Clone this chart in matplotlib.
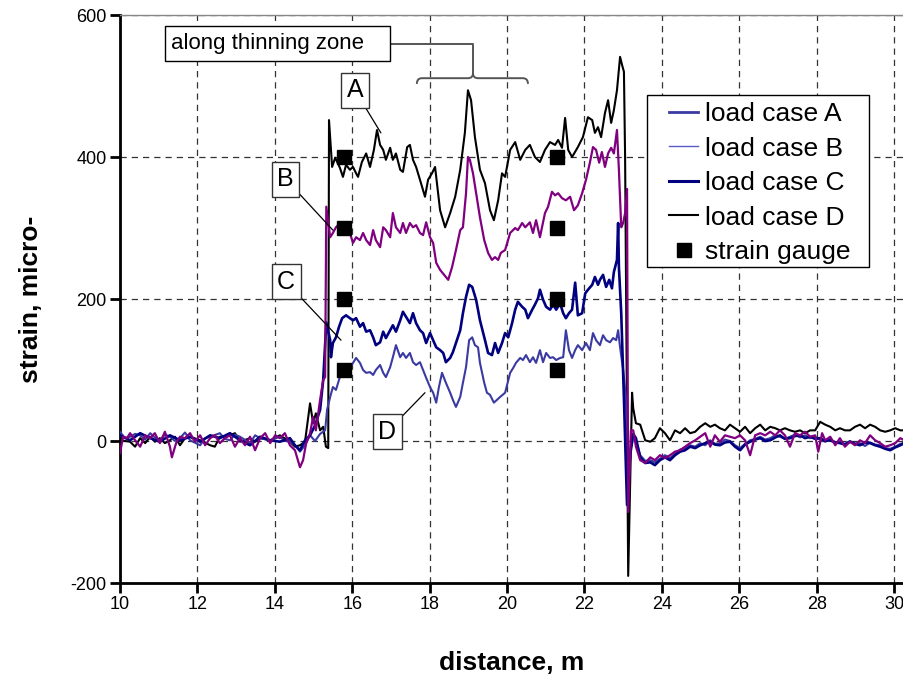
import matplotlib
matplotlib.use("Agg")
import matplotlib.pyplot as plt
from matplotlib.lines import Line2D
from matplotlib.path import Path
from matplotlib.patches import PathPatch, Rectangle

plt.rcParams['font.family'] = ['Liberation Sans', 'DejaVu Sans']
plt.rcParams['axes.unicode_minus'] = False

# ---------------- data (distance m, strain micro-) ----------------
d_x = [10.00,10.26,10.39,10.52,10.65,10.78,10.90,11.03,11.16,11.29,11.42,11.55,11.68,11.81,12.07,12.33,12.45,12.58,12.84,12.97,
       13.10,13.36,13.49,13.62,13.88,14.13,14.39,14.52,14.65,14.78,14.91,14.99,15.06,15.17,15.25,15.32,15.38,15.40,15.48,15.56,
       15.68,15.76,15.84,15.94,16.02,16.10,16.15,16.25,16.36,16.46,16.56,16.64,16.72,16.80,16.87,16.98,17.05,17.13,17.24,17.31,
       17.42,17.49,17.57,17.65,17.75,17.88,17.96,18.06,18.14,18.27,18.40,18.53,18.66,18.79,18.91,18.99,19.07,19.17,19.30,19.43,
       19.56,19.66,19.77,19.87,19.95,20.08,20.21,20.34,20.47,20.59,20.72,20.85,20.98,21.11,21.24,21.32,21.42,21.50,21.58,21.68,
       21.83,21.96,22.09,22.20,22.27,22.35,22.43,22.53,22.61,22.69,22.76,22.84,22.92,22.97,23.02,23.05,23.13,23.23,23.26,23.33,
       23.44,23.57,23.70,23.82,23.95,24.08,24.21,24.34,24.47,24.60,24.73,24.86,24.99,25.12,25.25,25.37,25.50,25.63,25.76,25.89,
       26.02,26.15,26.28,26.41,26.54,26.67,26.80,26.93,27.05,27.18,27.31,27.44,27.57,27.70,27.83,27.96,28.09,28.22,28.35,28.48,
       28.60,28.73,28.86,28.99,29.12,29.25,29.38,29.51,29.64,29.77,29.90,30.03,30.16,30.23]
d_y = [1,-1,-8,4,-3,6,-1,4,-3,1,6,-6,4,6,1,-6,-8,6,8,11,
       -1,4,-1,4,1,8,-1,-8,-6,-1,53,25,39,15,20,-8,-10,452,386,399,
       385,372,389,382,386,377,372,393,405,386,410,438,417,410,396,413,396,405,382,379,
       414,417,396,386,368,344,368,377,386,325,301,321,344,382,434,494,480,428,382,363,
       325,311,339,377,372,410,421,396,410,417,400,393,410,421,417,424,413,455,410,400,
       414,428,456,452,434,442,428,462,480,448,466,494,541,530,520,400,-190,68,46,25,
       23,1,-1,4,18,11,1,15,11,18,11,13,20,25,20,23,18,15,23,18,
       13,20,11,18,23,15,20,18,15,18,15,13,15,11,15,15,27,23,20,15,
       18,15,15,20,23,18,23,20,15,13,15,18,15,15]

b_x = [10.00,10.08,10.18,10.26,10.39,10.52,10.65,10.78,10.90,11.03,11.16,11.29,11.34,11.45,11.55,11.68,11.81,11.94,12.07,12.20,
       12.33,12.45,12.58,12.71,12.84,12.97,13.10,13.23,13.36,13.49,13.62,13.75,13.88,14.01,14.13,14.26,14.39,14.52,14.65,14.73,
       14.81,14.91,14.99,15.06,15.17,15.25,15.30,15.33,15.43,15.50,15.58,15.68,15.76,15.84,15.94,16.02,16.10,16.20,16.28,16.36,
       16.46,16.54,16.61,16.72,16.80,16.87,16.98,17.05,17.13,17.24,17.31,17.39,17.49,17.57,17.65,17.75,17.83,17.91,18.01,18.09,
       18.17,18.27,18.48,18.58,18.68,18.79,18.86,18.94,18.99,19.04,19.12,19.20,19.30,19.41,19.51,19.61,19.69,19.77,19.84,19.95,
       20.08,20.21,20.28,20.39,20.47,20.59,20.67,20.75,20.85,20.98,21.06,21.16,21.24,21.32,21.42,21.52,21.63,21.73,21.83,21.94,
       22.04,22.14,22.22,22.30,22.38,22.45,22.53,22.61,22.69,22.76,22.84,22.89,22.95,23.00,23.05,23.10,23.13,23.20,23.26,23.33,
       23.44,23.57,23.70,23.82,23.95,24.08,24.21,24.34,24.47,24.60,24.73,24.86,24.99,25.12,25.25,25.37,25.50,25.63,25.76,25.89,
       26.02,26.15,26.28,26.41,26.54,26.67,26.80,26.93,27.05,27.18,27.31,27.44,27.57,27.70,27.83,27.96,28.04,28.14,28.22,28.35,
       28.48,28.60,28.73,28.86,28.99,29.12,29.25,29.38,29.51,29.64,29.77,29.90,30.03,30.16,30.23]
b_y = [-17,6,4,11,1,-8,8,4,11,-3,13,-8,-23,-3,6,4,11,-1,8,-6,
       4,8,-3,4,8,-8,4,-6,6,-13,4,11,-3,8,4,11,-6,-13,-37,-27,
       -3,11,34,15,58,86,90,330,287,293,301,307,297,300,293,279,287,283,293,283,
       276,297,283,273,301,297,287,321,301,293,307,293,307,301,304,293,290,308,287,279,
       251,241,227,245,269,297,301,349,400,396,377,349,315,283,265,255,259,255,265,269,
       293,300,297,307,301,308,293,311,287,321,330,351,346,349,342,339,344,325,332,349,
       368,392,414,410,392,407,386,405,413,405,438,382,301,307,321,355,-100,15,15,-8,
       -27,-31,-23,-27,-20,-24,-20,-15,-13,-8,-3,1,6,11,-8,8,-1,8,6,4,
       8,1,-20,8,11,8,13,8,15,8,-8,11,8,13,6,8,-15,11,1,6,
       -6,4,-8,-1,-6,1,-3,8,1,-3,-8,-6,-3,4,2]

c_x = [10.00,10.26,10.52,10.78,11.03,11.29,11.55,11.81,12.07,12.33,12.58,12.84,13.10,13.36,13.62,13.88,14.13,14.39,14.52,14.65,
       14.78,14.91,15.04,15.17,15.25,15.33,15.43,15.45,15.50,15.58,15.66,15.74,15.84,15.94,16.02,16.10,16.20,16.28,16.36,16.46,
       16.54,16.61,16.72,16.80,16.87,16.98,17.05,17.13,17.24,17.31,17.39,17.49,17.57,17.65,17.75,17.83,17.91,18.01,18.09,18.17,
       18.27,18.35,18.42,18.53,18.60,18.68,18.79,18.86,18.94,19.02,19.10,19.20,19.30,19.43,19.51,19.61,19.69,19.77,19.87,19.95,
       20.03,20.13,20.21,20.28,20.39,20.47,20.54,20.65,20.72,20.80,20.85,20.93,21.01,21.11,21.19,21.27,21.37,21.45,21.52,21.60,
       21.68,21.76,21.83,21.94,22.02,22.09,22.20,22.27,22.35,22.40,22.48,22.56,22.64,22.71,22.76,22.84,22.87,22.89,22.95,23.02,
       23.10,23.18,23.26,23.33,23.44,23.57,23.70,23.82,23.95,24.08,24.21,24.34,24.47,24.60,24.73,24.86,24.99,25.12,25.25,25.37,
       25.50,25.63,25.76,25.89,26.02,26.15,26.28,26.41,26.54,26.67,26.80,26.93,27.05,27.18,27.31,27.44,27.57,27.70,27.83,27.96,
       28.09,28.22,28.35,28.48,28.60,28.73,28.86,28.99,29.12,29.25,29.38,29.51,29.64,29.77,29.90,30.03,30.16,30.23]
c_y = [8,1,11,4,-1,8,1,6,-1,8,4,11,1,-6,6,1,-1,4,-6,-13,
       1,8,22,44,86,167,142,118,138,146,161,173,177,173,170,173,161,166,154,156,
       146,135,139,154,145,156,163,154,170,182,175,166,180,166,156,152,138,152,142,132,
       128,124,111,117,125,138,156,180,203,220,217,199,170,142,124,121,138,124,138,152,
       146,166,185,196,189,185,173,185,192,201,213,199,189,185,192,185,194,180,173,180,
       185,223,177,180,208,213,220,231,220,227,234,217,227,215,238,255,307,245,180,60,
       -90,-20,10,4,-23,-31,-30,-34,-27,-23,-27,-20,-15,-13,-8,-10,-6,-3,-1,-5,
       -6,-2,-1,-8,-13,-5,-1,2,4,0,1,5,8,3,4,7,8,4,6,3,
       4,0,1,-2,-3,-5,-1,-4,-6,-2,-3,-6,-8,-11,-13,-9,-6,-4]

a_x = [10.00,10.13,10.26,10.39,10.52,10.65,10.78,10.90,11.03,11.16,11.29,11.42,11.55,11.68,11.81,12.07,12.20,12.33,12.58,12.71,
       12.84,12.97,13.10,13.36,13.49,13.62,13.88,14.13,14.26,14.39,14.52,14.65,14.78,14.91,15.04,15.17,15.30,15.35,15.43,15.50,
       15.58,15.68,15.76,15.84,15.94,16.02,16.10,16.20,16.28,16.36,16.46,16.54,16.61,16.72,16.80,16.87,16.98,17.05,17.13,17.24,
       17.31,17.39,17.49,17.57,17.65,17.75,17.83,17.91,18.01,18.09,18.17,18.24,18.32,18.42,18.53,18.60,18.68,18.79,18.86,18.94,
       19.02,19.10,19.17,19.25,19.30,19.41,19.48,19.56,19.66,19.74,19.82,19.95,20.08,20.16,20.23,20.34,20.41,20.49,20.59,20.67,
       20.75,20.85,20.93,21.01,21.11,21.19,21.27,21.37,21.45,21.52,21.60,21.68,21.76,21.83,21.94,22.04,22.14,22.22,22.30,22.40,
       22.48,22.56,22.66,22.74,22.82,22.87,22.92,23.00,23.07,23.13,23.20,23.26,23.33,23.44,23.57,23.70,23.82,23.95,24.08,24.21,
       24.34,24.47,24.60,24.73,24.86,24.99,25.12,25.25,25.37,25.50,25.63,25.76,25.89,26.02,26.15,26.28,26.41,26.54,26.67,26.80,
       26.93,27.05,27.18,27.31,27.44,27.57,27.70,27.83,27.96,28.09,28.22,28.35,28.48,28.60,28.73,28.86,28.99,29.12,29.25,29.38,
       29.51,29.64,29.77,29.90,30.03,30.16,30.23]
a_y = [13,4,6,10,8,2,11,5,1,9,6,0,4,12,1,-6,4,6,11,3,
       1,9,6,-3,8,4,1,6,0,-1,-6,-15,-6,8,0,10,15,44,62,76,
       72,90,100,104,103,110,117,110,100,96,97,93,100,107,96,90,104,118,135,118,
       124,117,124,111,107,111,100,89,76,68,54,76,96,82,68,58,48,62,82,104,
       142,146,135,132,110,82,68,65,54,58,62,68,96,103,110,117,114,121,111,118,
       110,128,111,124,117,118,114,117,118,156,128,117,128,135,128,138,128,152,142,135,
       149,142,139,145,142,156,132,100,62,-70,-10,5,0,-20,-28,-27,-30,-25,-20,-24,
       -18,-12,-10,-6,-8,-3,-6,1,-4,-3,2,0,-6,-10,-4,1,3,6,2,4,
       8,6,3,6,9,5,8,4,6,2,-1,3,-2,-1,-4,0,-4,-3,-7,-2,
       -5,-6,-10,-11,-8,-4,-3]

gauge_x = [15.8, 15.8, 15.8, 15.8, 21.3, 21.3, 21.3, 21.3]
gauge_y = [400, 300, 200, 100, 400, 300, 200, 100]

legend_labels = ['load case A', 'load case B', 'load case C', 'load case D', 'strain gauge']
x_ticks = [10, 12, 14, 16, 18, 20, 22, 24, 26, 28, 30]
y_ticks = [-200, 0, 200, 400, 600]

# ---------------- figure ----------------
W, H = 904, 676
fig = plt.figure(figsize=(W/100, H/100), dpi=100)
ax = fig.add_axes([120/W, 1-583/H, (903-120)/W, (583-15)/H])

col_a = '#3a3aa2'
col_b = '#800080'
col_c = '#000080'
col_d = '#000000'

ax.plot(d_x, d_y, color=col_d, lw=1.5, zorder=3)
ax.plot(a_x, a_y, color=col_a, lw=1.5, zorder=3)
ax.plot(c_x, c_y, color=col_c, lw=1.9, zorder=3)
ax.plot(b_x, b_y, color=col_b, lw=1.6, zorder=4)
ax.plot(gauge_x, gauge_y, ls='none', marker='s', ms=10.5, color='black', zorder=6)

ax.set_xlim(10, 30.23)
ax.set_ylim(-200, 600)
ax.set_xticks(x_ticks)
ax.set_yticks(y_ticks)
ax.grid(True, color='#333333', lw=0.9, ls=(0, (5, 4)))
ax.set_axisbelow(True)

ax.spines['right'].set_visible(False)
ax.spines['top'].set_color('#888888')
ax.spines['top'].set_linewidth(1.0)
ax.spines['left'].set_linewidth(2.0)
ax.spines['bottom'].set_linewidth(2.0)
ax.tick_params(direction='out', length=7, width=2, labelsize=13, pad=2.5)

ax.set_xlabel('distance, m', fontsize=19, fontweight='bold', labelpad=27)
ax.set_ylabel('strain, micro-', fontsize=19, fontweight='bold', labelpad=20)

# legend (frame drawn separately to match padding)
ax.add_patch(Rectangle((647/W, 1-267/H), 222/W, 172/H, transform=fig.transFigure,
                       fc='white', ec='black', lw=1.0, zorder=9))
handles = [Line2D([], [], color=col_a, lw=2.0),
           Line2D([], [], color='#5a5ac8', lw=1.0),
           Line2D([], [], color=col_c, lw=2.2),
           Line2D([], [], color='black', lw=1.5),
           Line2D([], [], ls='none', marker='s', ms=10, color='black')]
leg = ax.legend(handles, legend_labels, loc='upper left',
                bbox_to_anchor=(669/W, 1-102/H), bbox_transform=fig.transFigure,
                fontsize=19, frameon=False,
                handlelength=1.1, handletextpad=0.25, labelspacing=0.40, borderpad=0, borderaxespad=0)
leg.set_zorder(10)

# letter annotations
box = dict(boxstyle='square,pad=0.22', fc='white', ec='#333333', lw=1.0)
def label(txt, xy, xytext):
    ax.annotate(txt, xy=xy, xytext=xytext, fontsize=18, ha='center', va='center', bbox=box,
                arrowprops=dict(arrowstyle='-', color='black', lw=0.9, shrinkA=0, shrinkB=0), zorder=8)

label('A', (16.74, 434), (16.07, 494))
label('B', (15.50, 297), (14.28, 369))
label('C', (15.71, 142), (14.29, 224))
label('D', (17.88, 68), (16.90, 13))

ax.text(11.33, 560, 'along thinning zone   ', fontsize=16, ha='left', va='center',
        bbox=dict(boxstyle='square,pad=0.3', fc='white', ec='black', lw=1.0), zorder=8)
ax.plot([16.95, 19.12, 19.12], [559, 559, 518], color='#555555', lw=1.4, zorder=7)
verts = [(17.67, 503), (17.67, 511), (17.80, 511), (18.99, 511), (19.12, 511), (19.12, 518),
         (19.12, 511), (19.25, 511), (20.41, 511), (20.54, 511), (20.54, 503)]
codes = [Path.MOVETO, Path.CURVE3, Path.CURVE3, Path.LINETO, Path.CURVE3, Path.CURVE3,
         Path.CURVE3, Path.CURVE3, Path.LINETO, Path.CURVE3, Path.CURVE3]
ax.add_patch(PathPatch(Path(verts, codes), fill=False, ec='#555555', lw=1.4, zorder=7))

fig.savefig('out.png', dpi=100)
